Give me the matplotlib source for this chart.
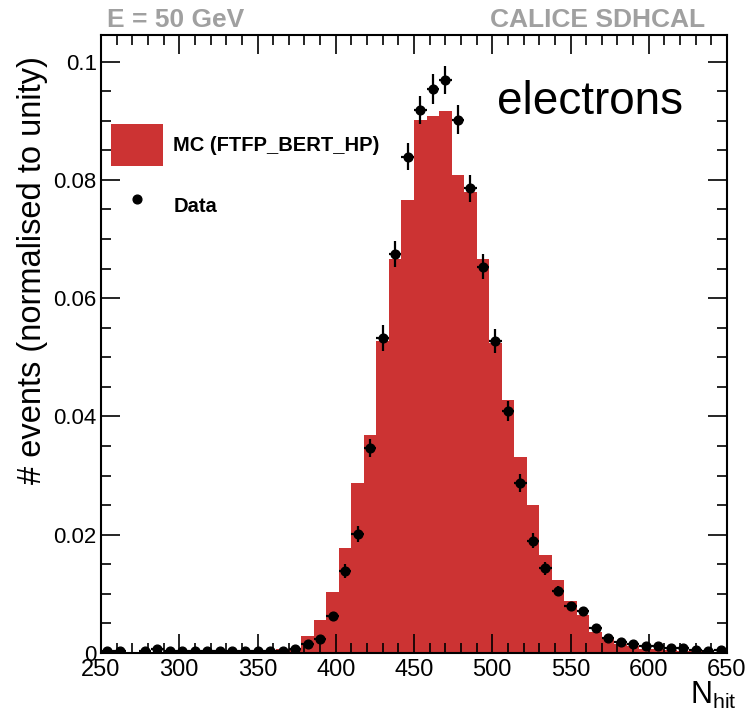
import numpy as np
import matplotlib
matplotlib.use("Agg")
import matplotlib.pyplot as plt
from matplotlib.patches import Patch
from matplotlib.lines import Line2D
from matplotlib.ticker import MultipleLocator, FuncFormatter

plt.rcParams['font.family'] = ['Liberation Sans', 'DejaVu Sans']
plt.rcParams['mathtext.fontset'] = 'custom'
plt.rcParams['mathtext.rm'] = 'Liberation Sans'
plt.rcParams['mathtext.it'] = 'Liberation Sans:italic'

# ---- data ----
bin_edges = np.arange(250, 651, 8)
mc_values = [0.0, 0.0, 0.0, 0.0, 0.0, 0.0, 0.0, 0.0, 0.0, 0.0,
             0.0, 0.0, 0.0001, 0.0002, 0.0007, 0.0008, 0.0029, 0.0055, 0.0103, 0.0177,
             0.0288, 0.0368, 0.0528, 0.0666, 0.0766, 0.0902, 0.0908, 0.0917, 0.0808, 0.0780,
             0.0666, 0.0525, 0.0427, 0.0331, 0.0251, 0.0165, 0.0124, 0.0088, 0.0064, 0.0035,
             0.0026, 0.0016, 0.0011, 0.0007, 0.0006, 0.0005, 0.0004, 0.0003, 0.0002, 0.0002]
data_values = [0.0004, 0.0004, np.nan, 0.0003, 0.0006, 0.0003, 0.0003, 0.0003, 0.0003, 0.0003,
               0.0003, 0.0003, 0.0003, 0.0003, 0.0004, 0.0007, 0.0015, 0.0024, 0.0063, 0.0138,
               0.0201, 0.0347, 0.0533, 0.0674, 0.0839, 0.0918, 0.0954, 0.0969, 0.0902, 0.0786,
               0.0653, 0.0528, 0.0409, 0.0287, 0.0190, 0.0143, 0.0105, 0.0079, 0.0071, 0.0043,
               0.0026, 0.0018, 0.0016, 0.0012, 0.0012, 0.0008, 0.0008, 0.0005, 0.0004, 0.0005]
data_errors = [0.0002, 0.0002, 0.0002, 0.0002, 0.0002, 0.0002, 0.0002, 0.0002, 0.0002, 0.0002,
               0.0002, 0.0002, 0.0002, 0.0002, 0.0002, 0.0003, 0.0004, 0.0005, 0.0007, 0.0012,
               0.0013, 0.0015, 0.0022, 0.0022, 0.0023, 0.0024, 0.0025, 0.0024, 0.0024, 0.0023,
               0.0021, 0.0020, 0.0017, 0.0015, 0.0013, 0.0011, 0.0009, 0.0008, 0.0007, 0.0006,
               0.0005, 0.0004, 0.0004, 0.0003, 0.0003, 0.0003, 0.0003, 0.0002, 0.0002, 0.0002]
bin_centers = 0.5 * (bin_edges[:-1] + bin_edges[1:])
bin_half = 0.5 * np.diff(bin_edges)

mc_label = "MC (FTFP_BERT_HP)"
data_label = "Data"
title_left = "E = 50 GeV"
title_right = "CALICE SDHCAL"
particle_label = "electrons"

RED = '#cc3333'

fig = plt.figure(figsize=(7.51, 7.16), dpi=100)
ax = fig.add_axes([101/751, 1-653/716, 626/751, 618/716])

ax.stairs(mc_values, bin_edges, fill=True, color=RED, linewidth=0)
ax.errorbar(bin_centers, data_values, yerr=data_errors, xerr=bin_half,
            fmt='o', color='black', ms=6.3, elinewidth=1.6, capsize=0)

ax.set_xlim(250, 650)
ax.set_ylim(0, 0.1045)

ax.xaxis.set_major_locator(MultipleLocator(50))
ax.xaxis.set_minor_locator(MultipleLocator(10))
ax.yaxis.set_major_locator(MultipleLocator(0.02))
ax.yaxis.set_minor_locator(MultipleLocator(0.005))
ax.yaxis.set_major_formatter(FuncFormatter(lambda v, p: '%g' % round(v, 4)))

ax.tick_params(which='both', direction='in', top=True, right=True, width=1.2)
ax.tick_params(which='major', length=14)
ax.tick_params(which='minor', length=7)
ax.tick_params(axis='y', labelsize=16, pad=3)
ax.tick_params(axis='x', labelsize=17, pad=4)
for s in ax.spines.values():
    s.set_linewidth(1.5)

ax.set_ylabel("# events (normalised to unity)", fontsize=23.5, loc='top')
ax.yaxis.set_label_coords((48-101)/626, (653-55)/619)

xl = ax.set_xlabel(r"N$_{\rm hit}$", fontsize=22)
ax.xaxis.set_label_coords((737-101)/626, (653-680)/619)
xl.set_ha('right')
xl.set_va('top')

ax.text((497-101)/626, (653-113)/619, particle_label, transform=ax.transAxes,
        fontsize=33, va='baseline', ha='left')

fig.text(107/751, 1-27/716, title_left, color='#a0a0a0', fontsize=19,
         fontweight='bold', ha='left', va='baseline')
fig.text(705/751, 1-27/716, title_right, color='#a0a0a0', fontsize=19,
         fontweight='bold', ha='right', va='baseline')

handles = [Patch(facecolor=RED, edgecolor='none'),
           Line2D([], [], marker='o', color='black', linestyle='none', ms=6.3)]
leg = ax.legend(handles, [mc_label, data_label], loc='upper left',
                bbox_to_anchor=((111-101)/626, (653-123)/619),
                frameon=False, borderpad=0, borderaxespad=0,
                handlelength=2.6, handleheight=2.85, handletextpad=0.5,
                labelspacing=0.95, prop={'weight': 'bold', 'size': 14.5})

fig.savefig("out.png", dpi=100)
